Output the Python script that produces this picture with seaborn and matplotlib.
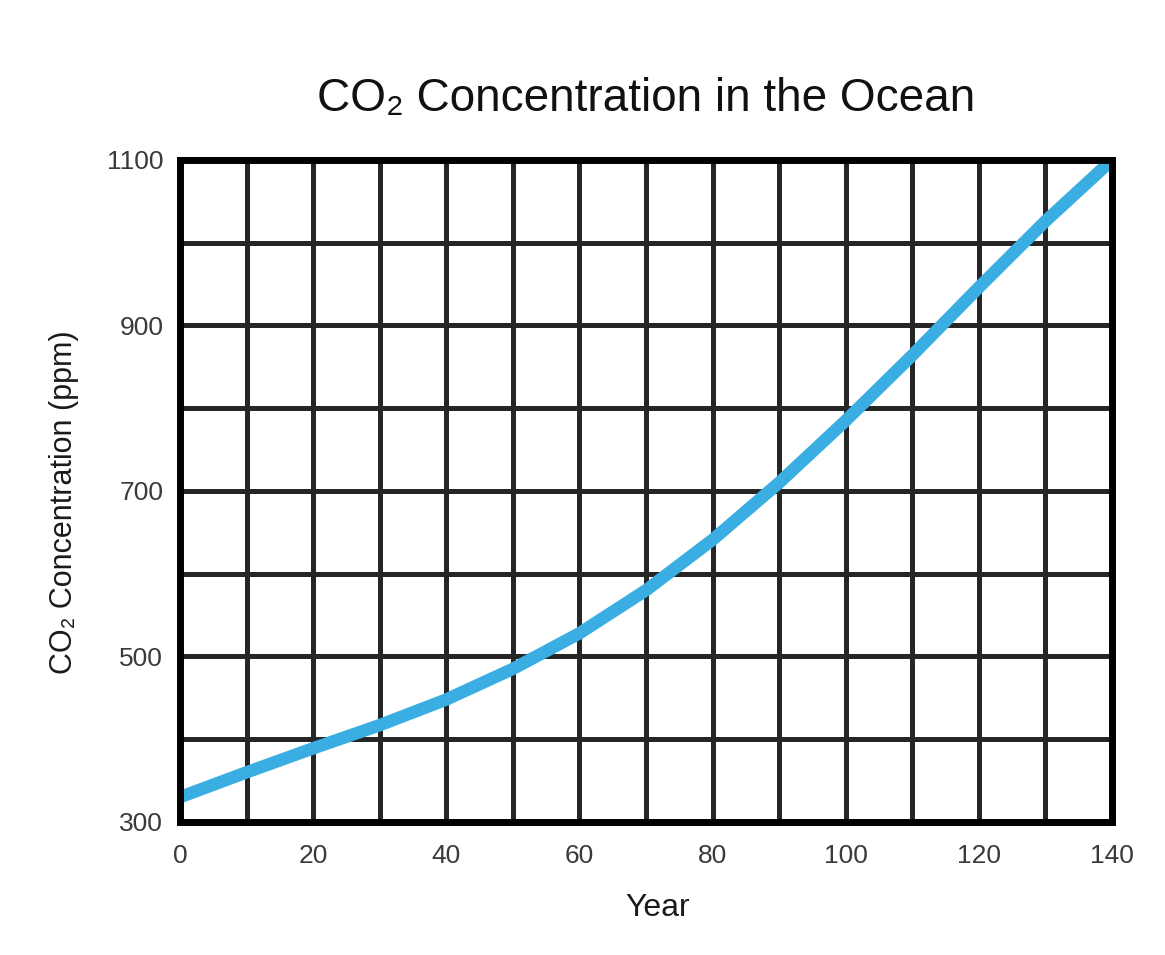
import matplotlib
matplotlib.use("Agg")
import matplotlib.pyplot as plt
import seaborn as sns
import pandas as pd

# data
years = [0, 10, 20, 30, 40, 50, 60, 70, 80, 90, 100, 110, 120, 130, 140]
co2_ppm = [330, 360, 389, 417, 448, 485, 528, 580, 641, 710, 785, 864, 946, 1026, 1100]

x_major = [0, 20, 40, 60, 80, 100, 120, 140]
y_major = [300, 500, 700, 900, 1100]

df = pd.DataFrame({"Year": years, "CO2": co2_ppm})

sns.set_theme(style="white")
plt.rcParams["font.family"] = ["Liberation Sans", "DejaVu Sans"]

fig = plt.figure(figsize=(11.65, 9.55), dpi=100)
ax = fig.add_axes([0.1545, 0.1393, 0.80, 0.6932])

sns.lineplot(data=df, x="Year", y="CO2", ax=ax, color="#3aaee2",
             linewidth=9, solid_capstyle="butt", solid_joinstyle="round",
             zorder=5)

ax.set_xlim(0, 140)
ax.set_ylim(300, 1100)
ax.set_xticks(x_major)
ax.set_xticks(range(0, 141, 10), minor=True)
ax.set_yticks(y_major)
ax.set_yticks(range(300, 1101, 100), minor=True)
ax.grid(True, which="both", color="#262626", linewidth=3.6)
ax.set_axisbelow(True)
ax.tick_params(which="both", length=0)
ax.tick_params(axis="x", labelsize=19, colors="#3a3a3a", pad=16)
ax.tick_params(axis="y", labelsize=19, colors="#3a3a3a", pad=12)

for side in ax.spines.values():
    side.set_visible(True)
    side.set_color("black")
    side.set_linewidth(5)
    side.set_zorder(6)

ax.set_title("CO₂ Concentration in the Ocean", fontsize=33, color="#111111", pad=35)
ax.set_xlabel("Year", fontsize=23, color="#1a1a1a")
ax.set_ylabel("CO₂ Concentration (ppm)", fontsize=22, color="#1a1a1a")
ax.xaxis.set_label_coords(0.513, -0.107)
ax.yaxis.set_label_coords(-0.108, 0.483)

fig.savefig("out.png", dpi=100, facecolor="white")
